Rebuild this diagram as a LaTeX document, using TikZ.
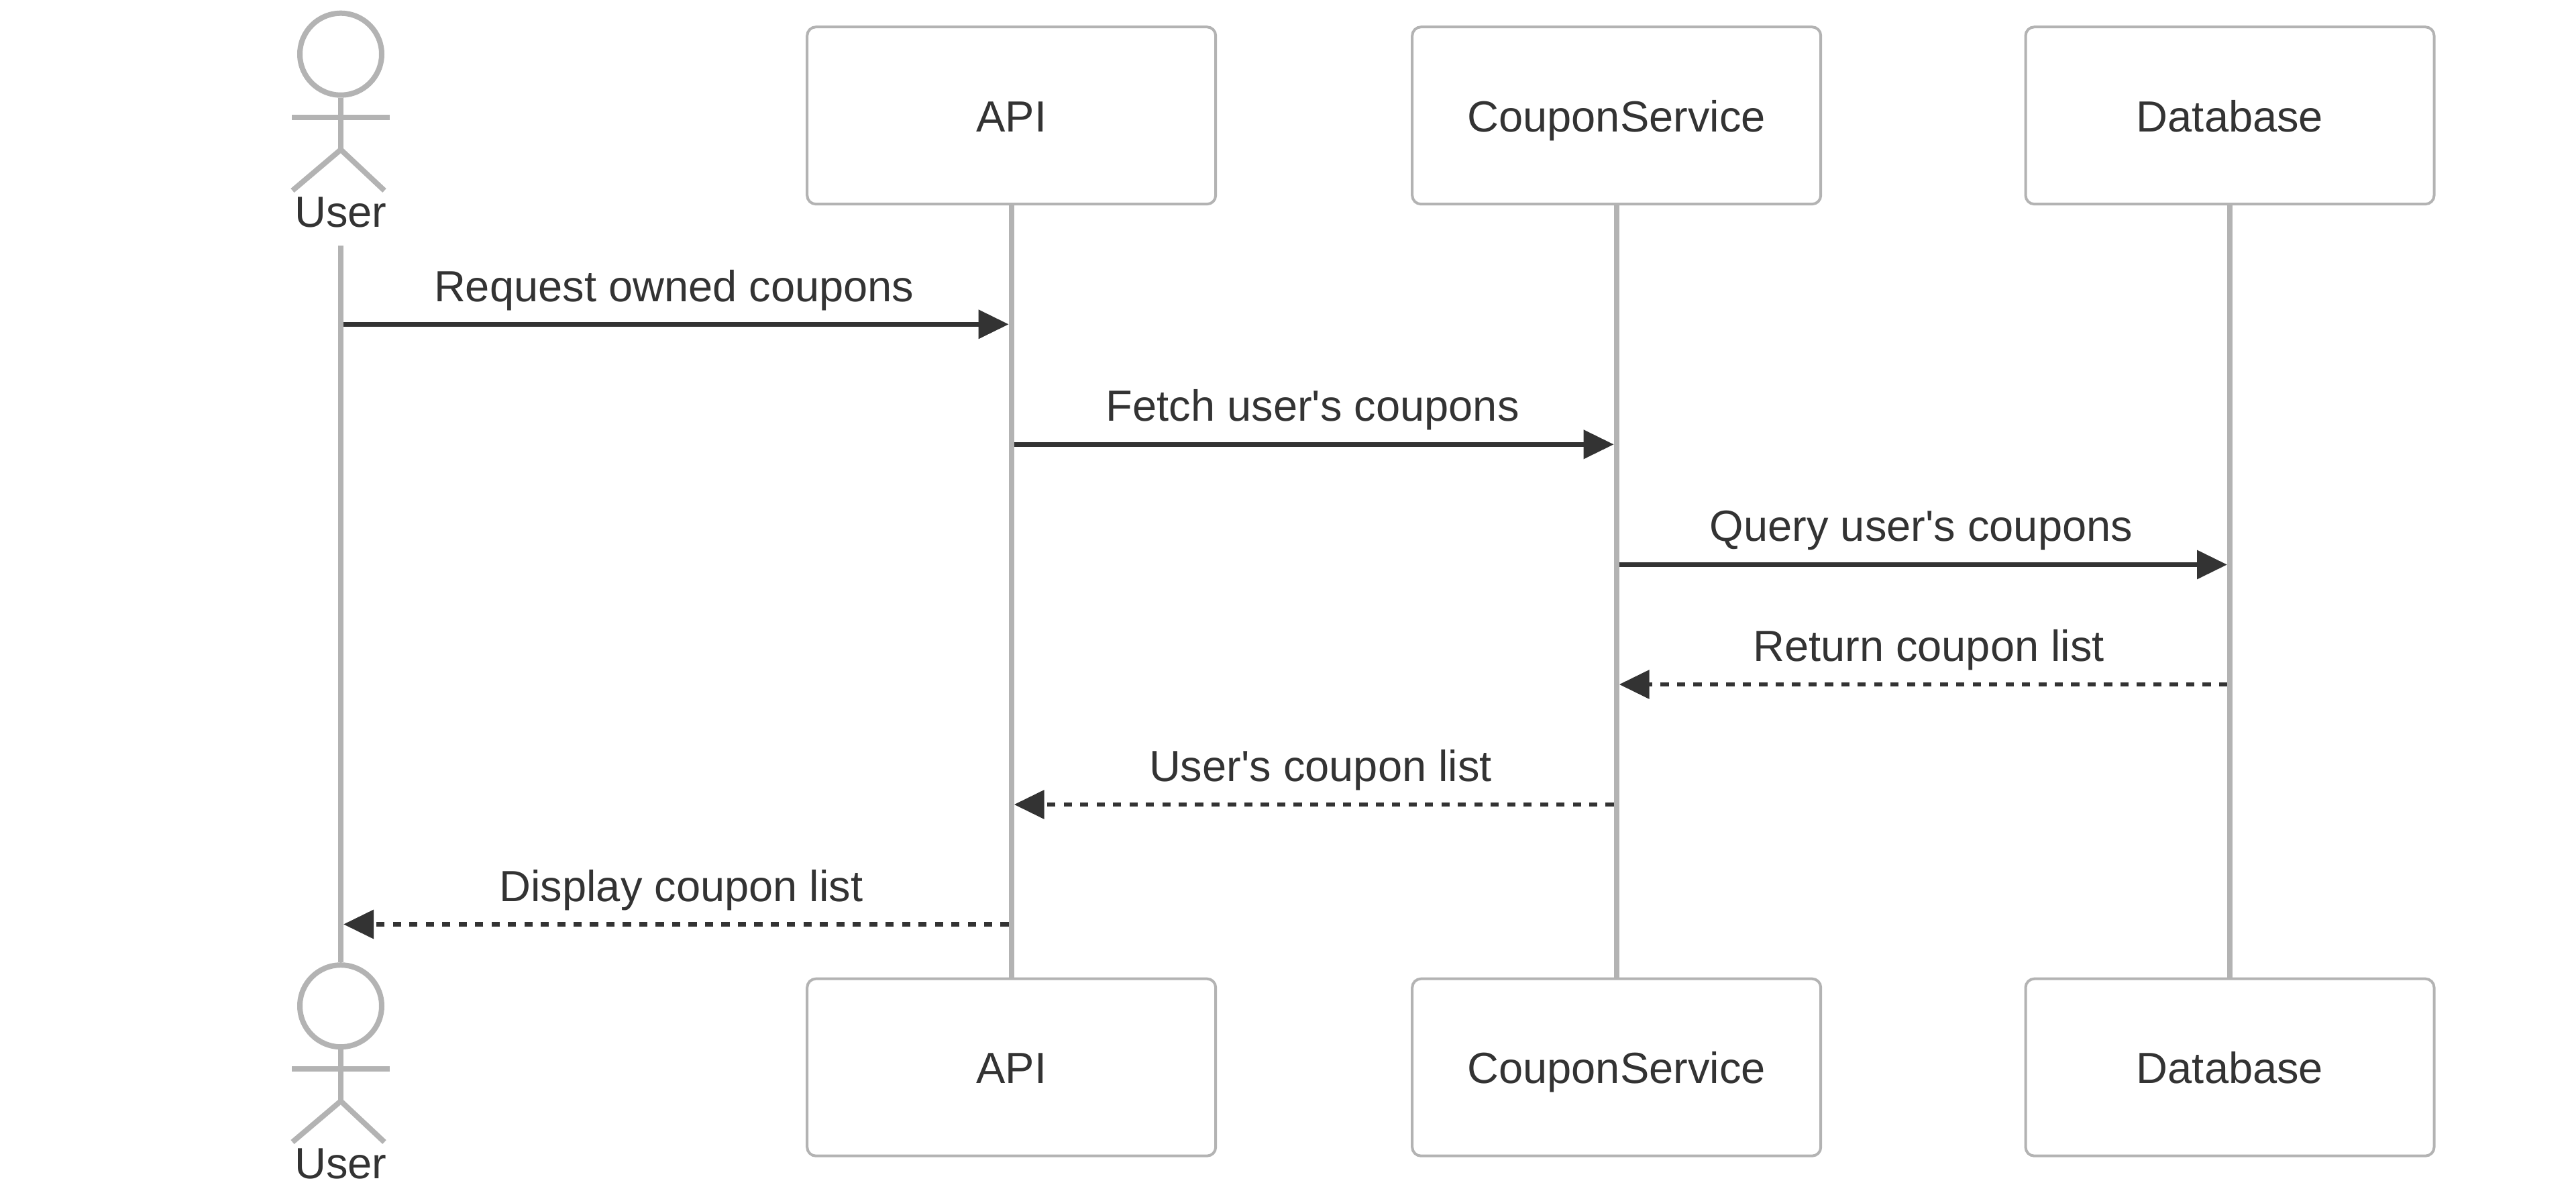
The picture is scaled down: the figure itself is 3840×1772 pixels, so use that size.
\documentclass[tikz,border=0pt]{standalone}
\usepackage{fontspec}
\setmainfont{Liberation Sans}
\usetikzlibrary{arrows.meta}
\definecolor{lineGrey}{HTML}{B3B3B3}
\definecolor{inkDark}{HTML}{333333}
\tikzset{
  x=0.5pt,y=-0.5pt,
  labeltext/.style={font=\fontsize{32.5pt}{39pt}\selectfont,text=inkDark,inner sep=0pt,anchor=base},
  partbox/.style={draw=lineGrey,line width=2pt,fill=white,rounded corners=6.5pt,minimum width=304.5pt,minimum height=132pt,inner sep=0pt,
    font=\fontsize{32.5pt}{39pt}\selectfont,text=inkDark,text height=24pt,text depth=0pt},
  lifeline/.style={draw=lineGrey,line width=4pt},
  limb/.style={draw=lineGrey,line width=4pt},
  headcircle/.style={circle,draw=lineGrey,line width=4pt,fill=white,minimum size=61pt,inner sep=0pt},
  msg/.style={draw=inkDark,line width=3.4pt,-{Triangle[length=22.5pt,width=21pt,fill=inkDark]}},
  reply/.style={msg,dash pattern=on 6.12pt off 6.12pt},
}
\begin{document}
\begin{tikzpicture}
\useasboundingbox (0,0) rectangle (3840,1772);
% participants: top
\node[headcircle] (uh) at (508,80.7) {};
\node[labeltext] (ut) at (508,338) {User};
\node[partbox] (a) at (1507.7,172.2) {API};
\node[partbox] (c) at (2409.7,172.2) {CouponService};
\node[partbox] (d) at (3324,172.2) {Database};
% participants: bottom
\node[headcircle] (ubh) at (508,1499.2) {};
\node[labeltext] (ub) at (508,1756.5) {User};
\node[partbox] (ab) at (1507.7,1590.7) {API};
\node[partbox] (cb) at (2409.7,1590.7) {CouponService};
\node[partbox] (db) at (3324,1590.7) {Database};
% actor figures
\coordinate (uhip) at (508,223);
\coordinate (uarmL) at (435,174.5);
\coordinate (uarmR) at (581,174.5);
\coordinate (ulegL) at (436,284);
\coordinate (ulegR) at (573,284);
\draw[limb] (uh.south) -- (uhip);
\draw[limb] (uarmL) -- (uarmR);
\draw[limb] (ulegL) -- (uhip) -- (ulegR);
\coordinate (ubhip) at (508,1641);
\coordinate (ubarmL) at (435,1593);
\coordinate (ubarmR) at (581,1593);
\coordinate (ublegL) at (436,1702);
\coordinate (ublegR) at (573,1702);
\draw[limb] (ubh.south) -- (ubhip);
\draw[limb] (ubarmL) -- (ubarmR);
\draw[limb] (ublegL) -- (ubhip) -- (ublegR);
% lifelines
\coordinate (ul) at (508,366);
\draw[lifeline] (ul) -- (ubh.north);
\draw[lifeline] (a.south) -- (ab.north);
\draw[lifeline] (c.south) -- (cb.north);
\draw[lifeline] (d.south) -- (db.north);
% message end points
\coordinate (m1a) at (512,483.3);  \coordinate (m1b) at (1503.7,483.3);
\coordinate (m2a) at (1511.7,662.3); \coordinate (m2b) at (2405.7,662.3);
\coordinate (m3a) at (2413.7,841.5); \coordinate (m3b) at (3320,841.5);
\coordinate (m4a) at (3320,1020);  \coordinate (m4b) at (2413.7,1020);
\coordinate (m5a) at (2405.7,1199); \coordinate (m5b) at (1511.7,1199);
\coordinate (m6a) at (1503.7,1377.5); \coordinate (m6b) at (512,1377.5);
\draw[msg] (m1a) -- (m1b);
\draw[msg] (m2a) -- (m2b);
\draw[msg] (m3a) -- (m3b);
\draw[reply] (m4a) -- (m4b);
\draw[reply] (m5a) -- (m5b);
\draw[reply] (m6a) -- (m6b);
% message labels
\node[labeltext] (l1) at (1004.8,449) {Request owned coupons};
\node[labeltext] (l2) at (1956.7,627.8) {Fetch user\textquotesingle s coupons};
\node[labeltext] (l3) at (2864,806.6) {Query user\textquotesingle s coupons};
\node[labeltext] (l4) at (2875,985.4) {Return coupon list};
\node[labeltext] (l5) at (1968.5,1164.2) {User\textquotesingle s coupon list};
\node[labeltext] (l6) at (1015.5,1343) {Display coupon list};
\end{tikzpicture}
\end{document}
